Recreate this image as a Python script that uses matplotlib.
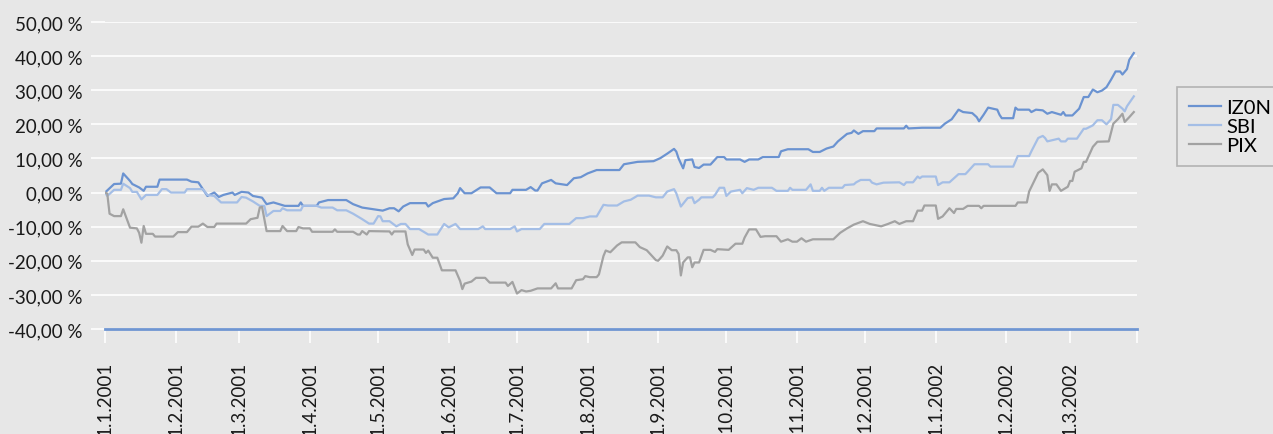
import numpy as np
import pandas as pd
import matplotlib
matplotlib.use("Agg")
import matplotlib.pyplot as plt
import matplotlib.dates as mdates
from matplotlib.ticker import FuncFormatter, FixedLocator, MultipleLocator

# days after 1.1.2001 and cumulative return in %
izon_day = [0, 4, 7, 8, 11, 12, 15, 17, 18, 23, 24, 36, 38, 41, 45, 48, 50, 52, 56, 57,
            60, 63, 65, 69, 71, 74, 79, 85, 86, 87, 93, 94, 98, 106, 109, 113, 121, 122, 125, 127,
            129, 131, 134, 141, 142, 144, 149, 153, 155, 156, 158, 161, 165, 169, 172, 178, 179, 185, 187, 189,
            190, 192, 196, 198, 203, 206, 209, 212, 216, 226, 228, 234, 241, 244, 247, 250, 251, 252, 254, 255,
            258, 259, 261, 263, 266, 269, 272, 273, 279, 281, 283, 287, 289, 296, 297, 300, 309, 311, 314, 317,
            320, 322, 326, 328, 329, 331, 333, 338, 339, 351, 352, 353, 359, 367, 369, 372, 375, 377, 381, 383,
            384, 386, 388, 392, 393, 394, 399, 400, 401, 406, 407, 409, 412, 414, 416, 420, 421, 422, 425, 428,
            430, 432, 434, 436, 438, 440, 442, 444, 446, 447, 449, 450, 452]
izon_val = [0, 2.5, 2.6, 5.6, 3.4, 2.5, 1.5, 0.5, 1.7, 1.7, 3.8, 3.8, 3.2, 3.0, -1.0, 0, -1.3, -0.7, 0, -0.7,
            0.2, 0, -1, -1.5, -3.4, -2.9, -3.9, -3.9, -2.9, -3.9, -3.9, -2.9, -2.2, -2.2, -3.4, -4.4, -5.2, -5.3, -4.6, -4.6,
            -5.5, -4.1, -3.1, -3.1, -4.1, -3.1, -1.9, -1.7, -0.2, 1.3, -0.2, -0.2, 1.5, 1.5, -0.2, -0.2, 0.8, 0.8, 1.6, 0.6,
            0.6, 2.7, 3.7, 2.7, 2.2, 4.2, 4.5, 5.6, 6.6, 6.6, 8.3, 9.0, 9.2, 10.1, 11.4, 12.8, 12.0, 10.0, 7.1, 9.5,
            9.7, 7.5, 7.2, 8.2, 8.2, 10.4, 10.4, 9.7, 9.7, 9.0, 9.7, 9.7, 10.4, 10.4, 12.1, 12.7, 12.7, 11.9, 11.9, 12.9,
            13.5, 15.0, 17.2, 17.5, 18.2, 17.2, 18.0, 18.0, 18.8, 18.8, 19.6, 18.8, 19.0, 19.0, 20.2, 21.5, 24.3, 23.6, 23.3, 22.1,
            20.9, 22.8, 24.9, 24.3, 22.8, 21.8, 21.8, 24.9, 24.3, 24.3, 23.6, 24.3, 24.1, 23.1, 23.6, 22.8, 23.6, 22.6, 22.6, 24.6,
            28.0, 28.0, 30.2, 29.4, 29.9, 30.9, 33.1, 35.5, 35.5, 34.6, 36.2, 38.9, 40.9]

sbi_day = [0, 1, 4, 7, 8, 11, 12, 14, 16, 18, 23, 25, 27, 29, 35, 36, 43, 45, 48, 51,
           58, 60, 62, 65, 68, 70, 71, 74, 77, 78, 80, 86, 87, 93, 95, 100, 102, 106, 109, 113,
           116, 118, 120, 121, 122, 125, 128, 130, 132, 134, 138, 142, 146, 149, 151, 154, 156, 164, 166, 167,
           178, 180, 181, 183, 191, 193, 204, 207, 210, 213, 216, 219, 221, 225, 228, 231, 234, 239, 242, 245,
           247, 250, 251, 253, 256, 258, 259, 261, 262, 267, 268, 270, 272, 273, 275, 279, 280, 282, 285, 287,
           293, 295, 300, 301, 302, 308, 310, 311, 314, 315, 316, 318, 324, 325, 329, 330, 332, 336, 337, 339,
           342, 349, 351, 352, 355, 357, 358, 359, 365, 366, 368, 371, 375, 378, 379, 382, 388, 389, 399, 401,
           406, 407, 410, 412, 413, 414, 419, 420, 422, 423, 427, 430, 431, 434, 436, 438, 440, 442, 443, 445,
           447, 448, 449, 452]
sbi_val = [0, -1, 0.8, 0.8, 2.6, 1.3, 0.2, 0.2, -2, -0.7, -0.7, 1, 1, 0, 0, 1, 1, -0.7, -1, -2.9,
           -2.9, -1.3, -1.5, -2.6, -3.9, -3.9, -6.9, -5.4, -5.4, -4.6, -5.2, -5.2, -3.9, -3.9, -4.4, -4.4, -5.2, -5.2, -6.2, -7.8,
           -9.1, -9.1, -6.9, -7.0, -8.4, -8.4, -9.9, -9.2, -9.2, -10.7, -10.7, -12.3, -12.3, -9.2, -10.2, -9.2, -10.7, -10.7, -9.9, -10.7,
           -10.7, -9.9, -11.4, -10.7, -10.7, -9.2, -9.2, -7.5, -7.5, -7.0, -7.0, -3.6, -3.8, -3.8, -2.6, -2.1, -0.9, -0.9, -1.4, -1.4,
           0.3, 1.0, -0.2, -4.1, -1.6, -1.4, -3.1, -2.1, -1.4, -1.4, -0.7, 1.4, 1.4, -1.0, 0.3, 0.8, -0.2, 1.3, 0.8, 1.4,
           1.4, 0.5, 0.5, 1.4, 0.8, 0.8, 2.4, 0.5, 0.5, 1.4, 0.5, 1.4, 1.4, 2.2, 2.4, 3.0, 3.7, 3.7, 2.9, 2.4,
           2.9, 3.0, 2.2, 3.0, 3.0, 4.7, 4.2, 4.7, 4.7, 2.2, 3.0, 3.0, 5.4, 5.4, 6.1, 8.3, 8.3, 7.6, 7.6, 10.7,
           10.7, 12.1, 16.0, 16.6, 16.0, 15.0, 15.8, 15.0, 15.0, 15.8, 15.8, 18.7, 18.7, 19.7, 21.2, 21.2, 20.0, 21.5, 25.7, 25.7,
           24.6, 23.8, 25.3, 28.2]

pix_day = [0, 1, 2, 4, 7, 8, 11, 14, 15, 16, 17, 18, 21, 22, 30, 32, 36, 38, 41, 43,
           45, 48, 49, 62, 64, 67, 68, 69, 71, 77, 78, 80, 84, 85, 87, 90, 91, 100, 101, 102,
           109, 111, 112, 113, 115, 116, 125, 126, 127, 132, 133, 135, 136, 140, 141, 142, 144, 146, 148, 154,
           156, 157, 158, 161, 163, 167, 169, 176, 177, 179, 181, 183, 185, 187, 190, 196, 198, 199, 205, 207,
           210, 211, 213, 216, 217, 219, 220, 222, 225, 227, 233, 235, 238, 242, 243, 245, 247, 249, 251, 252,
           253, 254, 256, 257, 258, 259, 261, 263, 266, 268, 269, 274, 277, 280, 281, 283, 286, 288, 290, 295,
           297, 300, 302, 304, 306, 308, 311, 320, 323, 326, 329, 333, 336, 341, 344, 347, 349, 352, 355, 357,
           359, 360, 365, 366, 368, 371, 373, 374, 377, 379, 384, 385, 386, 400, 401, 405, 406, 410, 412, 414,
           415, 416, 418, 420, 423, 424, 425, 426, 429, 430, 431, 434, 436, 441, 443, 445, 447, 448, 450, 452]
pix_val = [0, -0.3, -6.2, -6.9, -6.9, -4.9, -10.3, -10.5, -11.8, -14.7, -9.8, -12.1, -12.1, -12.9, -12.9, -11.6, -11.6, -10.0, -10.0, -9.1,
           -10.1, -10.1, -9.1, -9.1, -7.8, -7.4, -4.4, -4.2, -11.3, -11.3, -9.8, -11.3, -11.3, -10.1, -10.5, -10.5, -11.5, -11.5, -10.8, -11.5,
           -11.5, -12.3, -12.3, -11.3, -12.3, -11.3, -11.4, -12.3, -11.4, -11.4, -15.2, -18.3, -16.7, -16.7, -17.7, -17.0, -19.1, -19.1, -22.8, -22.8,
           -25.9, -28.3, -26.7, -26.1, -25.0, -25.0, -26.4, -26.4, -27.4, -26.2, -29.6, -28.6, -29.0, -28.8, -28.1, -28.1, -26.6, -28.1, -28.1, -25.7,
           -25.4, -24.5, -24.8, -24.8, -24.0, -18.6, -17.0, -17.5, -15.5, -14.6, -14.6, -16.0, -16.9, -19.8, -20.0, -18.5, -15.8, -16.9, -16.9, -18.0,
           -24.3, -20.5, -19.0, -19.0, -21.9, -20.5, -20.5, -16.8, -16.8, -17.4, -16.6, -16.8, -15.0, -15.0, -13.2, -10.8, -10.8, -13.0, -12.8, -12.8,
           -14.4, -13.7, -14.4, -14.4, -13.4, -14.4, -13.7, -13.7, -11.8, -10.5, -9.4, -8.4, -9.2, -9.9, -9.2, -8.4, -9.2, -8.4, -8.4, -5.3,
           -5.3, -3.8, -3.8, -7.7, -7.0, -4.6, -6.0, -4.8, -4.8, -3.9, -3.9, -4.6, -3.9, -3.9, -2.9, -2.9, 0.3, 5.8, 6.8, 5.1,
           0.5, 2.4, 2.4, 0.5, 1.7, 3.4, 3.4, 6.1, 7.1, 9.0, 9.0, 13.4, 14.9, 15.0, 20.2, 21.5, 23.1, 20.7, 22.1, 23.6]

series_names = ["IZ0N", "SBI", "PIX"]
start = pd.Timestamp("2001-01-01")
month_ticks = pd.date_range("2001-01-01", "2002-03-01", freq="MS")

bg = "#e7e7e7"
colors = ["#6b93d1", "#a4bee6", "#a2a2a2"]

plt.rcParams["font.family"] = ["Lato", "DejaVu Sans"]

fig = plt.figure(figsize=(12.73, 4.35), dpi=100, facecolor=bg)
ax = fig.add_axes([105 / 1273, 1 - 330 / 435, 1032 / 1273, 307 / 435])
ax.set_facecolor(bg)

for name, days, vals, c in zip(series_names,
                               [izon_day, sbi_day, pix_day],
                               [izon_val, sbi_val, pix_val], colors):
    dates = start + pd.to_timedelta(days, unit="D")
    ax.plot(dates, vals, color=c, lw=1.6, label=name, solid_joinstyle="round")

end = start + pd.Timedelta(days=453.4)
ax.set_xlim(start, end)
ax.set_ylim(-40, 50)

ax.yaxis.set_major_locator(MultipleLocator(10))
ax.yaxis.set_major_formatter(FuncFormatter(
    lambda v, p: f"{v:.2f}".replace(".", ",") + " %"))
ax.grid(axis="y", color="white", lw=1.2)
ax.set_axisbelow(True)

ax.xaxis.set_major_locator(FixedLocator(mdates.date2num(month_ticks)))
ax.xaxis.set_minor_locator(FixedLocator([mdates.date2num(end)]))
ax.xaxis.set_major_formatter(FuncFormatter(
    lambda v, p: (lambda d: f"{d.day}.{d.month}.{d.year}")(mdates.num2date(v))))

for s in ["top", "right", "left"]:
    ax.spines[s].set_visible(False)
ax.spines["bottom"].set_color("#6f96d2")
ax.spines["bottom"].set_linewidth(2)
ax.spines["bottom"].set_zorder(3)

ax.tick_params(axis="y", length=10, width=1.2, color="white", pad=6,
               labelsize=13.5, labelcolor="#1a1a1a")
ax.tick_params(axis="x", which="both", length=10, width=1.2, color="white",
               pad=13, labelsize=13.5, labelcolor="#1a1a1a")
for lab in ax.get_xticklabels():
    lab.set_rotation(90)
    lab.set_va("top")
    lab.set_ha("center")

leg = fig.legend(loc="upper left", bbox_to_anchor=(1177 / 1273, 1 - 88 / 435),
                 borderaxespad=0, frameon=True, fancybox=False, fontsize=14.5,
                 handlelength=1.6, handletextpad=0.25, labelspacing=0.08,
                 borderpad=0.6)
leg.get_frame().set_facecolor(bg)
leg.get_frame().set_edgecolor("#a6a6a6")
leg.get_frame().set_linewidth(1.2)

fig.savefig("out.png", dpi=100, facecolor=bg)
